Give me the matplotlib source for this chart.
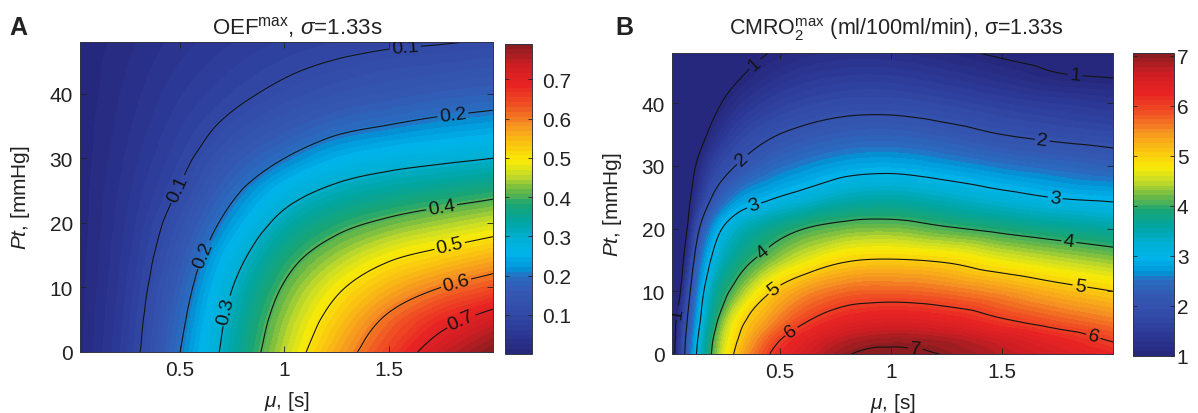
import numpy as np
import matplotlib
matplotlib.use("Agg")
import matplotlib.pyplot as plt
import matplotlib.tri as mtri
from matplotlib.colors import LinearSegmentedColormap, ListedColormap, Normalize

# ---- data ----
# panel A: OEF^max on a (Pt, mu) grid
oef_mu = [0.02, 0.25, 0.5, 0.75, 1.0, 1.25, 1.5, 1.75, 2.0]
oef_pt = [0, 5, 10, 15, 20, 25, 30, 35, 40, 45, 48]
oef_max = [
    [0.008, 0.075, 0.200, 0.332, 0.453, 0.562, 0.652, 0.735, 0.790],
    [0.007, 0.070, 0.186, 0.319, 0.433, 0.528, 0.612, 0.677, 0.728],
    [0.006, 0.064, 0.170, 0.299, 0.406, 0.488, 0.552, 0.600, 0.637],
    [0.005, 0.058, 0.150, 0.268, 0.370, 0.435, 0.486, 0.518, 0.550],
    [0.004, 0.052, 0.128, 0.226, 0.323, 0.378, 0.412, 0.438, 0.463],
    [0.004, 0.046, 0.104, 0.186, 0.266, 0.315, 0.342, 0.360, 0.378],
    [0.003, 0.040, 0.086, 0.148, 0.200, 0.248, 0.272, 0.287, 0.300],
    [0.003, 0.034, 0.072, 0.113, 0.150, 0.183, 0.202, 0.218, 0.230],
    [0.002, 0.029, 0.060, 0.087, 0.113, 0.135, 0.150, 0.163, 0.172],
    [0.002, 0.024, 0.049, 0.070, 0.088, 0.102, 0.114, 0.120, 0.128],
    [0.001, 0.021, 0.043, 0.061, 0.076, 0.086, 0.092, 0.097, 0.104],
]
oef_levels = [0.1, 0.2, 0.3, 0.4, 0.5, 0.6, 0.7]
oef_ticks = [0.1, 0.2, 0.3, 0.4, 0.5, 0.6, 0.7]

# panel B: CMRO2^max (ml/100ml/min)
cmro_mu = [0.015, 0.04, 0.08, 0.125, 0.2, 0.3, 0.45, 0.6, 0.8, 1.0, 1.25, 1.5, 1.75, 2.0]
cmro_pt = [0, 2, 5, 10, 15, 20, 25, 30, 35, 40, 44, 48]
cmro_max = [
    [0.70, 1.30, 2.15, 3.00, 4.10, 5.06, 5.98, 6.50, 6.97, 7.06, 6.98, 6.75, 6.48, 6.22],
    [0.68, 1.25, 2.10, 2.92, 4.02, 4.94, 5.80, 6.35, 6.78, 6.93, 6.85, 6.60, 6.30, 5.99],
    [0.64, 1.15, 1.95, 2.75, 3.80, 4.75, 5.45, 5.96, 6.35, 6.48, 6.38, 6.10, 5.85, 5.62],
    [0.55, 0.75, 1.65, 2.50, 3.50, 4.15, 4.95, 5.40, 5.70, 5.75, 5.65, 5.45, 5.20, 5.00],
    [0.50, 0.60, 1.25, 2.20, 3.10, 3.70, 4.20, 4.60, 4.95, 5.02, 4.93, 4.67, 4.47, 4.29],
    [0.45, 0.52, 0.95, 1.80, 2.70, 3.30, 3.70, 3.98, 4.18, 4.22, 4.05, 3.88, 3.72, 3.58],
    [0.40, 0.50, 0.80, 1.30, 2.05, 2.60, 2.93, 3.15, 3.43, 3.50, 3.35, 3.15, 2.98, 2.90],
    [0.35, 0.45, 0.65, 1.03, 1.60, 2.00, 2.38, 2.60, 2.80, 2.85, 2.72, 2.55, 2.42, 2.30],
    [0.30, 0.40, 0.55, 0.75, 1.15, 1.60, 1.93, 2.12, 2.27, 2.30, 2.18, 2.00, 1.88, 1.79],
    [0.25, 0.33, 0.45, 0.60, 0.87, 1.20, 1.52, 1.70, 1.82, 1.83, 1.72, 1.57, 1.46, 1.36],
    [0.22, 0.30, 0.40, 0.52, 0.72, 0.95, 1.22, 1.40, 1.50, 1.50, 1.38, 1.22, 1.06, 1.00],
    [0.20, 0.27, 0.36, 0.46, 0.62, 0.80, 1.00, 1.12, 1.20, 1.19, 1.08, 0.94, 0.83, 0.75],
]
cmro_levels = [1, 2, 3, 4, 5, 6, 7]
cmro_ticks = [1, 2, 3, 4, 5, 6, 7]

# ---- style ----
plt.rcParams["font.family"] = "Liberation Sans"
plt.rcParams["mathtext.fontset"] = "custom"
plt.rcParams["mathtext.rm"] = "Liberation Sans"
plt.rcParams["mathtext.it"] = "Liberation Sans:italic"
plt.rcParams["mathtext.bf"] = "Liberation Sans:bold"
txt = "#222222"

# jet-like map as it looks in the printed figure
anchors = [
    (0.0, (38, 40, 125)), (0.06, (44, 55, 148)), (0.125, (50, 75, 168)),
    (0.19, (52, 88, 178)), (0.25, (40, 110, 195)), (0.275, (0, 150, 215)),
    (0.32, (0, 180, 235)), (0.37, (0, 175, 212)), (0.42, (0, 165, 165)),
    (0.48, (25, 165, 115)), (0.53, (110, 185, 70)), (0.58, (200, 220, 40)),
    (0.625, (250, 235, 5)), (0.69, (250, 190, 20)), (0.75, (245, 140, 35)),
    (0.81, (240, 80, 35)), (0.875, (232, 35, 35)), (0.94, (205, 30, 35)),
    (1.0, (140, 28, 32)),
]
smooth = LinearSegmentedColormap.from_list(
    "printjet", [(t, tuple(c / 255 for c in rgb)) for t, rgb in anchors])
cmap = ListedColormap(smooth(np.linspace(0, 1, 64)))


def refined(mu, pt, z):
    # triangulate the grid and let matplotlib smooth it (cubic)
    M, P = np.meshgrid(mu, pt)
    nx = len(mu)
    tris = []
    for j in range(len(pt) - 1):
        for i in range(nx - 1):
            a = j * nx + i
            tris += [[a, a + 1, a + nx + 1], [a, a + nx + 1, a + nx]]
    zz = np.ravel(np.array(z, dtype=float))
    t = mtri.Triangulation(M.ravel() / 2.0, P.ravel() / 48.0, tris)
    interp = mtri.CubicTriInterpolator(t, zz, kind="geom")
    tr, zr = mtri.UniformTriRefiner(t).refine_field(zz, triinterpolator=interp, subdiv=4)
    return mtri.Triangulation(tr.x * 2.0, tr.y * 48.0, tr.triangles), zr


def panel(ax, cax, mu, pt, z, clim, levels, fmt, lab_pos, cticks, cpad):
    T, zr = refined(mu, pt, z)
    fill_levels = np.linspace(clim[0], clim[1], 65)
    ax.tricontourf(T, zr, levels=fill_levels, cmap=cmap, extend="both")
    cs = ax.tricontour(T, zr, levels=levels, colors="#141414", linewidths=0.8)
    ax.clabel(cs, fmt=fmt, fontsize=14, colors="#141414", manual=lab_pos,
              inline=True, inline_spacing=2)
    ax.set_xlim(mu[0], 2.0)
    ax.set_ylim(0, 48)
    ax.set_xticks([0.5, 1, 1.5])
    ax.set_xticklabels(["0.5", "1", "1.5"])
    ax.set_yticks([0, 10, 20, 30, 40])
    ax.tick_params(direction="in", top=True, right=True, length=4, width=0.6,
                   labelsize=15, colors=txt, pad=5)
    ax.tick_params(axis="x", pad=6)
    for s in ax.spines.values():
        s.set_color("#333344")
        s.set_linewidth(0.7)
    ax.set_xlabel(r"$\mathit{\mu}$, [s]", fontsize=15, color=txt, labelpad=7)
    ax.set_ylabel(r"$\mathit{Pt}$, [mmHg]", fontsize=15, color=txt, labelpad=13)

    sm = plt.cm.ScalarMappable(norm=Normalize(*clim), cmap=cmap)
    cb = fig.colorbar(sm, cax=cax, ticks=cticks)
    cb.outline.set_color("#333344")
    cb.outline.set_linewidth(0.7)
    cax.tick_params(direction="in", left=True, right=True, length=3, width=0.6,
                    labelsize=15, colors=txt, pad=cpad)
    return cb


fig = plt.figure(figsize=(11.98, 4.14), dpi=100)
W, H = 1198.0, 414.0


def box(x0, y0, x1, y1):
    return [x0 / W, 1 - y1 / H, (x1 - x0) / W, (y1 - y0) / H]


axA = fig.add_axes(box(80, 43, 493, 353))
caxA = fig.add_axes(box(505, 45, 532, 355))
axB = fig.add_axes(box(672, 54, 1113, 355))
caxB = fig.add_axes(box(1133, 54, 1174, 357))

labA = [(1.58, 46.6), (0.51, 24.9), (1.81, 36.0), (0.66, 14.5), (0.75, 6.2),
        (1.76, 21.2), (1.80, 15.3), (1.83, 9.8), (1.85, 4.6)]
panel(axA, caxA, oef_mu, oef_pt, oef_max, (0.0, 0.79), oef_levels, "%.1f",
      labA, oef_ticks, 7)

labB = [(0.39, 46.2), (1.83, 44.6), (0.035, 6.6), (0.33, 31.1), (1.68, 33.7),
        (0.39, 23.1), (1.74, 25.0), (0.42, 16.5), (1.80, 17.5), (0.48, 10.1),
        (1.85, 10.6), (0.55, 3.7), (1.91, 2.7), (1.11, 0.5)]
panel(axB, caxB, cmro_mu, cmro_pt, cmro_max, (1.0, 7.05), cmro_levels, "%d",
      labB, cmro_ticks, 2)

fig.text(297 / W, 1 - 34 / H, r"OEF$^{\mathrm{max}}$, $\mathit{\sigma}$=1.33s",
         fontsize=16, color=txt, ha="center", va="baseline")
fig.text(896 / W, 1 - 35 / H, r"CMRO$_2^{\mathrm{max}}$ (ml/100ml/min), σ=1.33s",
         fontsize=15.5, color=txt, ha="center", va="baseline")
fig.text(9 / W, 1 - 35 / H, "A", fontsize=18, fontweight="bold", color=txt)
fig.text(615 / W, 1 - 35 / H, "B", fontsize=18, fontweight="bold", color=txt)

fig.savefig("out.png", dpi=100)
